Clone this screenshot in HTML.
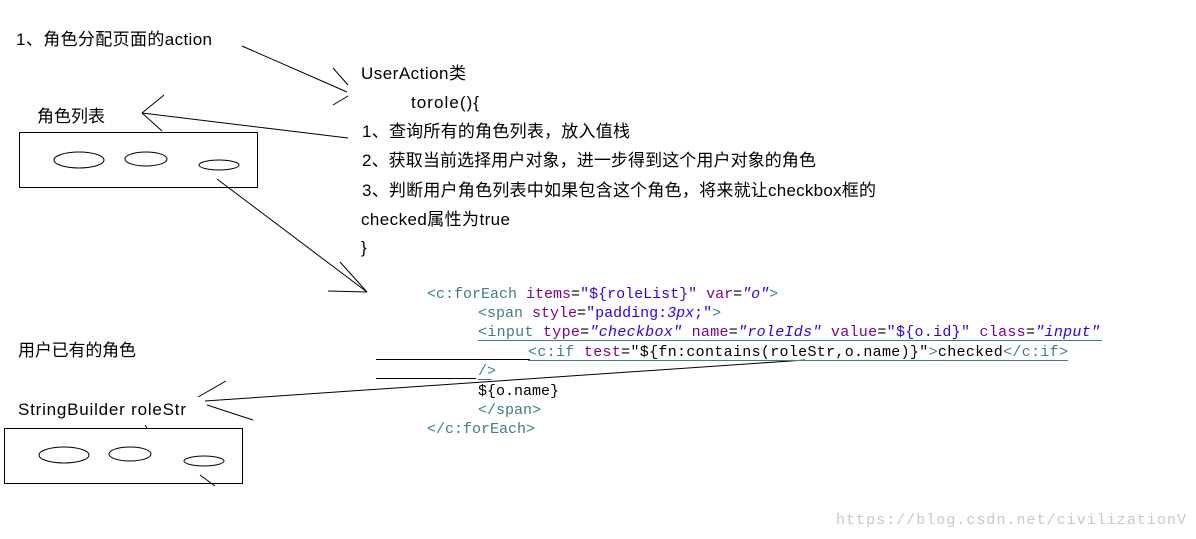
<!DOCTYPE html>
<html><head><meta charset="utf-8"><style>
html,body{margin:0;padding:0;background:#fff;width:1196px;height:539px;overflow:hidden}
svg{display:block}
.t{font-family:"Liberation Sans","Noto Sans CJK SC",sans-serif;font-size:17px;fill:#000}
.c{font-family:"Liberation Mono",monospace;font-size:15px}
.tg{fill:#3f7f7f}.at{fill:#7f007f}.v{fill:#2a00ff;font-style:italic}.s{fill:#2a00ff}.k{fill:#000}
</style></head><body>
<svg width="1196" height="539" viewBox="0 0 1196 539" xmlns="http://www.w3.org/2000/svg">
<g stroke="#000" fill="none" stroke-width="1">
<line x1="242" y1="46" x2="347" y2="92"/>
<line x1="333" y1="68" x2="348" y2="85"/><line x1="333" y1="105" x2="348" y2="96"/>
<line x1="348" y1="138" x2="142" y2="113"/>
<line x1="164" y1="95" x2="142" y2="113"/><line x1="142" y1="113" x2="162" y2="131"/>
<line x1="217" y1="179" x2="367" y2="292"/>
<line x1="340" y1="262" x2="367" y2="292"/><line x1="328" y1="291" x2="367" y2="292"/>
<rect x="19.5" y="132.5" width="238" height="55"/>
<ellipse cx="79" cy="160" rx="25" ry="8"/><ellipse cx="146" cy="159" rx="21" ry="7"/><ellipse cx="219" cy="165" rx="20" ry="5"/>
<rect x="4.5" y="428.5" width="238" height="55"/>
<ellipse cx="64" cy="455" rx="25" ry="8"/><ellipse cx="130" cy="454" rx="21" ry="7"/><ellipse cx="204" cy="461" rx="20" ry="5"/>
<line x1="145" y1="425" x2="147" y2="428"/><line x1="200" y1="475" x2="215" y2="486"/>
<line x1="376" y1="359.5" x2="530" y2="359.5"/>
<line x1="376" y1="378.5" x2="476" y2="378.5"/>
<line x1="805" y1="360" x2="205" y2="401"/>
<line x1="226" y1="381" x2="198" y2="397"/><line x1="207" y1="405" x2="253" y2="420"/>
</g>
<g stroke="#3f7f7f" stroke-width="1">
<line x1="478" y1="340.5" x2="1102" y2="340.5"/>
<line x1="528" y1="360.5" x2="1068" y2="360.5"/>
<line x1="478" y1="379.5" x2="492" y2="379.5"/>
</g>
<text class="t" x="16" y="45" textLength="196">1、角色分配页面的action</text>
<text class="t" x="37" y="122" textLength="68">角色列表</text>
<text class="t" x="18" y="356" textLength="118">用户已有的角色</text>
<text class="t" x="18" y="415" textLength="168">StringBuilder  roleStr</text>
<text class="t" x="361" y="79" textLength="105">UserAction类</text>
<text class="t" x="411" y="108" textLength="68">torole(){</text>
<text class="t" x="362" y="137" textLength="268">1、查询所有的角色列表，放入值栈</text>
<text class="t" x="362" y="166" textLength="454">2、获取当前选择用户对象，进一步得到这个用户对象的角色</text>
<text class="t" x="362" y="196" textLength="514">3、判断用户角色列表中如果包含这个角色，将来就让checkbox框的</text>
<text class="t" x="361" y="225" textLength="149">checked属性为true</text>
<text class="t" x="361" y="253">}</text>
<text class="c" x="427" y="298"><tspan class="tg">&lt;c:forEach</tspan> <tspan class="at">items</tspan><tspan class="k">=</tspan><tspan class="s">"${roleList}"</tspan> <tspan class="at">var</tspan><tspan class="k">=</tspan><tspan class="v">"o"</tspan><tspan class="tg">&gt;</tspan></text>
<text class="c" x="478" y="317"><tspan class="tg">&lt;span</tspan> <tspan class="at">style</tspan><tspan class="k">=</tspan><tspan class="s">"padding:</tspan><tspan class="v">3px</tspan><tspan class="s">;"</tspan><tspan class="tg">&gt;</tspan></text>
<text class="c" x="478" y="336" textLength="622"><tspan class="tg">&lt;input</tspan> <tspan class="at">type</tspan><tspan class="k">=</tspan><tspan class="v">"checkbox"</tspan> <tspan class="at">name</tspan><tspan class="k">=</tspan><tspan class="v">"roleIds"</tspan> <tspan class="at">value</tspan><tspan class="k">=</tspan><tspan class="s">"${o.id}"</tspan> <tspan class="at">class</tspan><tspan class="k">=</tspan><tspan class="v">"input"</tspan></text>
<text class="c" x="528" y="356" textLength="540"><tspan class="tg">&lt;c:if</tspan> <tspan class="at">test</tspan><tspan class="k">=</tspan><tspan class="k">"${fn:contains(roleStr,o.name)}"</tspan><tspan class="tg">&gt;</tspan><tspan class="k">checked</tspan><tspan class="tg">&lt;/c:if&gt;</tspan></text>
<text class="c tg" x="478" y="375">/&gt;</text>
<text class="c k" x="478" y="395">${o.name}</text>
<text class="c tg" x="478" y="414">&lt;/span&gt;</text>
<text class="c tg" x="427" y="433">&lt;/c:forEach&gt;</text>
<text x="836" y="524" style="font-family:'Liberation Mono',monospace;font-size:15px;fill:#c8c8c8" textLength="350">https://blog.csdn.net/civilizationV</text>
</svg>
</body></html>
